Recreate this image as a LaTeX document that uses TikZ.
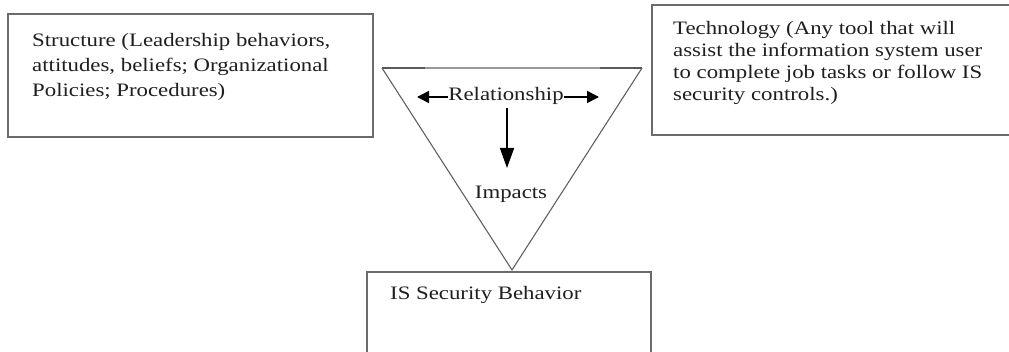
\documentclass[tikz,border=0pt]{standalone}
\usepackage{fontspec}
\setmainfont{Liberation Serif}[FakeStretch=1.2]
\usetikzlibrary{arrows.meta}
\begin{document}
\begin{tikzpicture}[x=1pt,y=-1pt,
  boxline/.style={draw=black!58,line width=2pt},
  triline/.style={draw=black!62,line width=1.1pt},
  label/.style={inner sep=0pt,font=\fontsize{19}{25}\selectfont,align=left,text=black!88},
  flow/.style={line width=1.6pt,-{Triangle[length=12pt,width=12pt]}}]
\useasboundingbox (0,0) rectangle (1009,352);
\fill[white] (0,0) rectangle (1009,352);

% the three corner boxes
\coordinate (sTL) at (8,14);  \coordinate (sBR) at (373,137);
\draw[boxline] (sTL) rectangle (sBR);
\draw[boxline] (1012,5) -- (652,5) -- (652,135) -- (1012,135);
\draw[boxline] (367,355) -- (367,272) -- (651,272) -- (651,355);

% central inverted triangle
\coordinate (tL) at (382,68); \coordinate (tR) at (642,68); \coordinate (tB) at (512,270);
\draw[triline] (tL) -- (tB) -- (tR);
\draw[draw=black!40,line width=1.6pt] (tL) -- (tR);
\draw[draw=black!65,line width=1.6pt] (tL) -- (425,68) (600,68) -- (tR);

% box texts (each node is placed by the baseline of its last line)
\node[label,anchor=base west] (structure) at (32,97)
  {Structure (Leadership behaviors,\\attitudes, beliefs; Organizational\\Policies; Procedures)};
\node[label,anchor=base west,font=\fontsize{19}{22.3}\selectfont] (technology) at (673,101)
  {Technology (Any tool that will\\assist the information system user\\to complete job tasks or follow IS\\security controls.)};
\node[label,anchor=base west] (behavior) at (390,300) {IS Security Behavior};

% labels inside the triangle
\node[label,anchor=base] (rel) at (506,101) {Relationship};
\node[label,anchor=base] (imp) at (511,199) {Impacts};
\coordinate (relL) at (417,97);
\coordinate (relR) at (599,97);
\coordinate (down) at (507,168);
\draw[flow] (rel.west |- relL) -- (relL);
\draw[flow] (rel.east |- relR) -- (relR);
\draw[flow,-{Triangle[length=20pt,width=14pt]}] (rel.south -| down) ++(0,3) -- (down);
\end{tikzpicture}
\end{document}
